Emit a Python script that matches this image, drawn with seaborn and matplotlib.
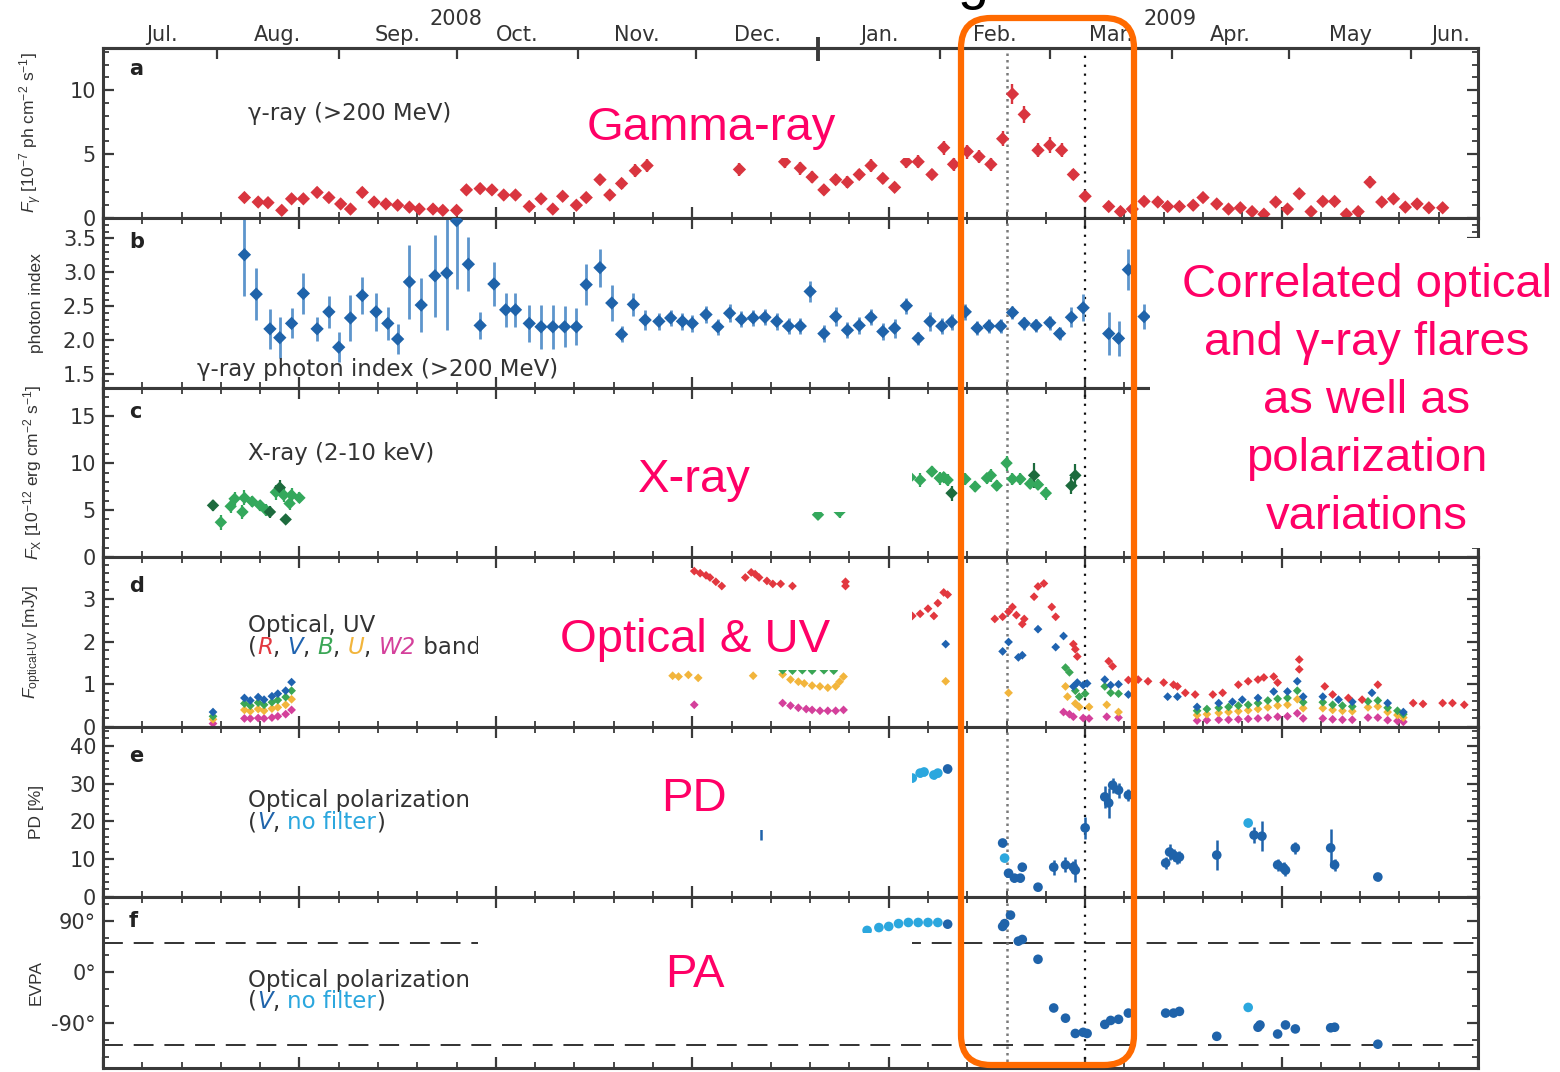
import numpy as np
import pandas as pd
import matplotlib
matplotlib.use("Agg")
import matplotlib.pyplot as plt
import matplotlib.transforms as mtrans
from matplotlib.patches import Rectangle, FancyBboxPatch
from matplotlib.ticker import MultipleLocator, FuncFormatter, FormatStrFormatter
import seaborn as sns

# ---------------- data (MJD on x) ----------------
gamma_mjd = [54686, 54689.5, 54692, 54695.5, 54698, 54701, 54704.5, 54707.5, 54710.5, 54713,
             54716, 54719, 54722, 54725, 54728, 54730.5, 54734, 54736.5, 54740, 54742.5,
             54746, 54749, 54752, 54755, 54758.5, 54761.5, 54764.5, 54767, 54770.5, 54773,
             54776.5, 54779, 54782, 54785.5, 54788.5,
             54812, 54823.5, 54827.5, 54830.5, 54833.5, 54836.5, 54839.5, 54842.5, 54845.5, 54848.5,
             54851.5, 54854.5, 54857.5, 54861, 54864, 54866.5, 54870, 54873, 54876, 54879,
             54881.5, 54884.5, 54888, 54891, 54894, 54897, 54900, 54906, 54909, 54912,
             54915, 54918.5, 54921, 54924, 54927.5, 54930, 54933.5, 54936.5, 54939.5, 54942.5,
             54945.5, 54948.5, 54951.5, 54954.5, 54957.5, 54960.5, 54963.5, 54966.5, 54969.5, 54972.5,
             54975.5, 54978.5, 54981.5, 54984.5, 54987.5, 54991]
gamma_flux = [1.6, 1.25, 1.2, 0.6, 1.5, 1.5, 2.0, 1.6, 1.1, 0.7,
              2.0, 1.25, 1.1, 1.0, 0.85, 0.7, 0.7, 0.6, 0.6, 2.2,
              2.3, 2.2, 1.8, 1.8, 0.9, 1.5, 0.7, 1.7, 1.0, 1.6,
              3.0, 1.8, 2.7, 3.7, 4.1,
              3.8, 4.4, 3.9, 3.2, 2.2, 3.0, 2.8, 3.4, 4.1, 3.1,
              2.4, 4.4, 4.4, 3.4, 5.5, 4.2, 5.2, 4.8, 4.2, 6.2,
              9.7, 8.1, 5.3, 5.7, 5.3, 3.4, 1.7, 0.9, 0.5, 0.7,
              1.3, 1.25, 0.9, 0.9, 1.0, 1.6, 1.1, 0.7, 0.8, 0.5,
              0.3, 1.25, 0.7, 1.9, 0.5, 1.3, 1.3, 0.3, 0.5, 2.8,
              1.25, 1.5, 0.85, 1.1, 0.8, 0.8]
gamma_err = [0.35, 0.3, 0.3, 0.3, 0.35, 0.35, 0.4, 0.35, 0.3, 0.3,
             0.4, 0.35, 0.3, 0.3, 0.3, 0.3, 0.3, 0.3, 0.3, 0.4,
             0.4, 0.4, 0.35, 0.35, 0.3, 0.35, 0.3, 0.35, 0.3, 0.35,
             0.45, 0.35, 0.45, 0.5, 0.5,
             0.5, 0.5, 0.5, 0.45, 0.4, 0.45, 0.45, 0.45, 0.5, 0.45,
             0.4, 0.5, 0.5, 0.45, 0.55, 0.5, 0.55, 0.5, 0.5, 0.6,
             0.75, 0.7, 0.55, 0.6, 0.55, 0.45, 0.45, 0.35, 0.3, 0.3,
             0.35, 0.35, 0.3, 0.3, 0.3, 0.35, 0.3, 0.3, 0.3, 0.3,
             0.3, 0.35, 0.3, 0.4, 0.3, 0.35, 0.35, 0.3, 0.3, 0.45,
             0.35, 0.35, 0.3, 0.3, 0.3, 0.3]

index_mjd = [54686, 54689, 54692.5, 54695, 54698, 54701, 54704.5, 54707.5, 54710, 54713,
             54716, 54719.5, 54722.5, 54725, 54728, 54731, 54734.5, 54737.5, 54740, 54743,
             54746, 54749.5, 54752.5, 54755, 54758.5, 54761.5, 54764.5, 54767.5, 54770.5, 54773,
             54776.5, 54779.5, 54782, 54785, 54788, 54791.5, 54794.5, 54797.5, 54800, 54803.5,
             54806.5, 54809.5, 54812.5, 54815.5, 54818.5, 54821.5, 54824.5, 54827.5, 54830, 54833.5,
             54836.5, 54839.5, 54842.5, 54845.5, 54848.5, 54851.5, 54854.5, 54857.5, 54860.5, 54863.5,
             54866, 54869.5, 54872.5, 54875.5, 54878.5, 54881.5, 54884.5, 54887.5, 54891, 54893.5,
             54896.5, 54899.5, 54906, 54908.5, 54911, 54915]
index_val = [3.26, 2.68, 2.17, 2.04, 2.25, 2.69, 2.17, 2.42, 1.90, 2.33,
             2.66, 2.42, 2.25, 2.02, 2.86, 2.52, 2.95, 2.99, 3.76, 3.12,
             2.22, 2.83, 2.45, 2.45, 2.25, 2.20, 2.20, 2.20, 2.20, 2.82,
             3.07, 2.55, 2.09, 2.53, 2.30, 2.28, 2.33, 2.28, 2.25, 2.38,
             2.20, 2.40, 2.31, 2.33, 2.34, 2.28, 2.21, 2.21, 2.72, 2.10,
             2.35, 2.15, 2.22, 2.34, 2.13, 2.18, 2.51, 2.03, 2.28, 2.21,
             2.27, 2.42, 2.18, 2.21, 2.21, 2.41, 2.25, 2.22, 2.26, 2.10,
             2.34, 2.48, 2.10, 2.03, 3.04, 2.35]
index_err = [0.6, 0.38, 0.29, 0.3, 0.22, 0.3, 0.18, 0.24, 0.22, 0.34,
             0.27, 0.28, 0.24, 0.22, 0.54, 0.4, 0.6, 0.83, 1.0, 0.4,
             0.2, 0.33, 0.25, 0.25, 0.27, 0.32, 0.32, 0.3, 0.27, 0.3,
             0.28, 0.27, 0.12, 0.17, 0.14, 0.13, 0.12, 0.12, 0.12, 0.13,
             0.12, 0.13, 0.12, 0.12, 0.12, 0.12, 0.12, 0.12, 0.15, 0.12,
             0.14, 0.12, 0.12, 0.12, 0.12, 0.14, 0.12, 0.1, 0.14, 0.12,
             0.12, 0.12, 0.1, 0.1, 0.1, 0.1, 0.1, 0.1, 0.1, 0.1,
             0.15, 0.2, 0.32, 0.26, 0.3, 0.18]

xray_mjd = [54678, 54680, 54682.5, 54683.5, 54685.5, 54686, 54688, 54690, 54691.5, 54692.5,
            54694, 54695, 54696, 54696.5, 54697.5, 54698, 54700,
            54832, 54837.5, 54855.5, 54858, 54861, 54863, 54864, 54865, 54866, 54869.5,
            54872, 54875, 54876, 54877.5, 54880, 54881.5, 54883.5, 54886, 54887, 54888,
            54890, 54896.5, 54897.5]
xray_flux = [5.5, 3.7, 5.4, 6.2, 4.8, 6.3, 5.9, 5.5, 5.0, 4.8,
             6.9, 7.4, 6.6, 4.0, 5.7, 6.6, 6.3,
             4.5, 4.8, 8.5, 8.2, 9.1, 8.4, 8.5, 8.2, 6.8, 8.3,
             7.5, 8.4, 8.7, 7.6, 10.0, 8.3, 8.3, 7.8, 8.7, 7.7,
             6.8, 7.6, 8.7]
xray_err = [0.6, 0.8, 0.7, 0.7, 0.7, 0.8, 0.6, 0.6, 0.6, 0.6,
            0.8, 0.8, 0.7, 0.5, 0.7, 0.7, 0.6,
            0.6, 0.6, 0.7, 0.7, 0.6, 0.7, 0.6, 0.6, 0.8, 0.6,
            0.6, 0.6, 0.7, 0.6, 0.8, 0.6, 0.6, 0.6, 1.3, 0.6,
            0.7, 0.9, 1.2]
xray_inst = ["dark", "light", "light", "light", "light", "light", "light", "light", "light", "dark",
             "light", "dark", "light", "dark", "light", "light", "light",
             "light", "light", "light", "light", "light", "light", "light", "light", "dark", "light",
             "light", "light", "light", "light", "light", "light", "light", "light", "dark", "light",
             "light", "dark", "dark"]

R_mjd = [54800.5, 54802, 54803.5, 54804.5, 54806, 54807.5, 54813.5, 54815, 54816, 54817,
         54819, 54820.5, 54822.5, 54825.5, 54839, 54839,
         54856, 54858, 54860, 54861.5, 54862.5, 54864, 54865,
         54877, 54879, 54880.5, 54881.5, 54882.5, 54884, 54884.5, 54887, 54888, 54889.5,
         54891.5, 54892.5, 54897, 54897.5, 54898, 54906, 54907,
         54911, 54913.5, 54916, 54920, 54922.5, 54923.5, 54925.5, 54928, 54932.5, 54935,
         54939, 54941.5, 54944, 54945.5, 54948, 54949, 54954.5, 54954.5, 54961, 54963,
         54967, 54970.5, 54974.5, 54983.5, 54986, 54991, 54993.5, 54996.5]
R_val = [3.65, 3.6, 3.55, 3.5, 3.4, 3.3, 3.5, 3.62, 3.58, 3.5,
         3.42, 3.35, 3.35, 3.3, 3.4, 3.3,
         2.6, 2.65, 2.77, 2.6, 2.9, 3.15, 3.1,
         2.53, 2.58, 2.7, 2.81, 2.62, 2.41, 2.53, 3.05, 3.29, 3.36,
         2.81, 2.58, 1.94, 1.82, 1.65, 1.54, 1.42,
         1.1, 1.11, 1.07, 1.04, 0.99, 0.95, 0.8, 0.76, 0.76, 0.8,
         0.99, 1.07, 1.11, 1.16, 1.18, 1.04, 1.58, 1.35, 0.95, 0.76,
         0.68, 0.64, 0.99, 0.56, 0.54, 0.56, 0.56, 0.52]
V_mjd = [54678, 54686, 54687.5, 54689.5, 54691, 54693, 54694.5, 54696.5, 54698,
         54864.5, 54879, 54880.5, 54883, 54884, 54888, 54892.5, 54894.5, 54897, 54898,
         54899.5, 54900.5, 54905, 54906.5, 54908.5, 54911,
         54921, 54923.5, 54928.5, 54934, 54937.5, 54940, 54944, 54948, 54951.5, 54954,
         54955.5, 54960.5, 54964.5, 54968, 54973, 54977, 54981]
V_val = [0.35, 0.68, 0.62, 0.70, 0.64, 0.72, 0.78, 0.85, 1.05,
         1.94, 1.77, 1.99, 1.63, 1.68, 2.29, 1.87, 2.13, 0.95, 1.04,
         0.98, 1.02, 1.11, 0.98, 1.0, 0.76,
         0.71, 0.71, 0.47, 0.56, 0.59, 0.64, 0.68, 0.83, 0.83, 1.07,
         0.71, 0.71, 0.64, 0.59, 0.8, 0.56, 0.35]
B_mjd = [54678, 54686, 54687.5, 54689.5, 54691, 54693, 54694.5, 54696.5, 54698,
         54823, 54825.5, 54828, 54830.5, 54833.5, 54836,
         54895, 54896, 54897.5, 54898.5, 54900, 54905, 54906.5, 54908.5,
         54928.5, 54931, 54934, 54936.5, 54939, 54941.5, 54944, 54946.5, 54949, 54951.5,
         54954, 54955.5, 54960.5, 54963, 54965.5, 54968, 54972, 54974.5, 54977, 54979.5, 54981]
B_val = [0.25, 0.55, 0.50, 0.57, 0.52, 0.58, 0.63, 0.70, 0.85,
         1.33, 1.32, 1.33, 1.32, 1.33, 1.32,
         1.39, 1.28, 0.85, 0.71, 0.78, 0.95, 0.80, 0.78,
         0.38, 0.42, 0.45, 0.47, 0.5, 0.52, 0.56, 0.62, 0.66, 0.68,
         0.85, 0.58, 0.58, 0.52, 0.5, 0.48, 0.6, 0.62, 0.45, 0.38, 0.3]
U_mjd = [54678, 54686, 54687.5, 54689.5, 54691, 54693, 54694.5, 54696.5, 54698,
         54795, 54796.5, 54799, 54801.5, 54815.5, 54823, 54825, 54827, 54828.5, 54830.5,
         54832.5, 54834.5, 54836.5, 54837.5, 54838.5, 54864.5,
         54880.5, 54895, 54895.5, 54897.5, 54898.5, 54901, 54905.5, 54908.5,
         54928.5, 54931, 54934, 54936.5, 54939, 54941.5, 54944, 54946.5, 54949, 54951.5,
         54954, 54955.5, 54960.5, 54963, 54965.5, 54968, 54972, 54974.5, 54977, 54979.5, 54981]
U_val = [0.18, 0.40, 0.37, 0.42, 0.38, 0.43, 0.46, 0.52, 0.65,
         1.2, 1.18, 1.22, 1.15, 1.2, 1.23, 1.11, 1.06, 1.02, 0.97,
         0.95, 0.92, 0.95, 1.06, 1.18, 1.07,
         0.8, 0.95, 0.71, 0.55, 0.47, 0.47, 0.52, 0.35,
         0.28, 0.3, 0.33, 0.35, 0.37, 0.39, 0.42, 0.46, 0.5, 0.52,
         0.65, 0.44, 0.44, 0.4, 0.38, 0.37, 0.46, 0.48, 0.35, 0.28, 0.22]
W2_mjd = [54678, 54686, 54687.5, 54689.5, 54691, 54693, 54694.5, 54696.5, 54698,
          54800.5, 54823, 54825, 54827, 54829, 54830.5, 54832.5, 54834.5, 54836.5, 54838.5,
          54894.5, 54896, 54897, 54899.5, 54901, 54905.5, 54908.5,
          54928.5, 54931, 54934, 54936.5, 54939, 54941.5, 54944, 54946.5, 54949, 54951.5,
          54954, 54955.5, 54960.5, 54963, 54965.5, 54968, 54972, 54974.5, 54977, 54979.5, 54981]
W2_val = [0.08, 0.20, 0.20, 0.21, 0.20, 0.22, 0.25, 0.30, 0.40,
          0.52, 0.56, 0.5, 0.45, 0.42, 0.4, 0.38, 0.38, 0.38, 0.4,
          0.35, 0.3, 0.24, 0.21, 0.2, 0.24, 0.22,
          0.15, 0.16, 0.17, 0.17, 0.18, 0.19, 0.2, 0.22, 0.24, 0.25,
          0.32, 0.2, 0.2, 0.18, 0.17, 0.17, 0.22, 0.22, 0.16, 0.14, 0.12]

pd_mjd = [54817.5, 54856, 54858, 54859, 54861.5, 54862.5, 54865,
          54879, 54879.5, 54880.5, 54882, 54883.5, 54884, 54888, 54892, 54895, 54897,
          54897.5, 54900, 54905, 54906, 54907, 54908.5, 54911,
          54920.5, 54921.5, 54922.5, 54923.5, 54924, 54933.5, 54941.5, 54943, 54945, 54949,
          54950.5, 54951, 54953.5, 54962.5, 54963.5, 54974.5]
pd_val = [20, 31.5, 32.8, 33.1, 32.3, 32.8, 33.9,
          14.3, 10.3, 6.3, 5.0, 5.0, 7.9, 2.6, 7.9, 8.5, 7.9,
          7.1, 18.3, 26.5, 24.9, 29.6, 28.3, 27.0,
          9.0, 11.9, 11.1, 10.3, 10.6, 11.1, 19.6, 16.4, 16.1, 8.5,
          7.7, 7.1, 13.0, 13.0, 8.5, 5.3]
pd_err = [5, 1, 1, 1, 1, 1, 1,
          1, 1, 1, 1, 1, 1, 1, 2, 2, 1.5,
          3, 3, 3, 4, 2, 2, 1.5,
          1.5, 2, 1.5, 1.5, 1.5, 4, 1, 2, 4, 1.5,
          1.5, 1.5, 1.5, 5, 1.5, 1]
pd_filter = ["V", "none", "none", "none", "none", "none", "V",
             "V", "none", "V", "V", "V", "V", "V", "V", "V", "V",
             "V", "V", "V", "V", "V", "V", "V",
             "V", "V", "V", "V", "V", "V", "none", "V", "V", "V",
             "V", "V", "V", "V", "V", "V"]

evpa_mjd = [54844.5, 54847.5, 54850, 54852.5, 54855, 54857.5, 54860, 54862.5, 54865,
            54879, 54879.5, 54881, 54883, 54884, 54888, 54892, 54895, 54897.5, 54899.5,
            54900.5, 54905, 54906.5, 54908.5, 54911,
            54920.5, 54922.5, 54924, 54933.5, 54941.5, 54944, 54944.5, 54949, 54951, 54953.5,
            54962.5, 54963.5, 54974.5]
evpa_val = [73, 78, 80, 85, 87, 87, 87, 87, 84,
            80, 85, 100, 54, 57, 22, -64, -82, -109, -107,
            -109, -93, -86, -84, -73,
            -73, -73, -70, -114, -63, -98, -94, -110, -94, -101,
            -99, -98, -128]
evpa_filter = ["none", "none", "none", "none", "none", "none", "none", "none", "V",
               "V", "V", "V", "V", "V", "V", "V", "V", "V", "V",
               "V", "V", "V", "V", "V",
               "V", "V", "V", "V", "none", "V", "V", "V", "V", "V",
               "V", "V", "V"]

month_names = ["Jul.", "Aug.", "Sep.", "Oct.", "Nov.", "Dec.", "Jan.", "Feb.", "Mar.", "Apr.", "May", "Jun."]
month_label_mjd = [54665, 54694.5, 54725, 54755.5, 54786, 54816.5, 54847.5, 54877, 54906.5, 54937, 54967.5, 54993]
month_start_mjd = [54679, 54710, 54740, 54771, 54801, 54832, 54863, 54891, 54922, 54952, 54983]
flare_lines = [54880, 54900]
evpa_bounds = [50, -130]

# ---------------- style ----------------
sns.set_theme(style="ticks")
plt.rcParams["font.family"] = ["DejaVu Sans"]
plt.rcParams["mathtext.fontset"] = "custom"
plt.rcParams["mathtext.rm"] = "Liberation Sans"
plt.rcParams["mathtext.it"] = "Liberation Sans:italic"
plt.rcParams["mathtext.bf"] = "Liberation Sans:bold"

RED = "#d9353f"
BLUE = "#1f63aa"
LBLUE = "#2ba7de"
EBLUE = "#5d95cc"
GREEN = "#34a85c"
DGREEN = "#1d6b3d"
TXT = "#333333"
SP = "#3a3a3a"
PINK = "#ff0066"
ORANGE = "#ff6a00"
band_pal = {"W2": "#d4409b", "U": "#f2b53c", "B": "#3aa655", "V": "#1f63b0", "R": "#e2383f"}

W, H = 1560, 1072
fig = plt.figure(figsize=(W / 100, H / 100), dpi=100, facecolor="white")
edges = [48, 218, 388, 557, 727, 897, 1068]
axes = []
for i in range(6):
    t, b = edges[i], edges[i + 1]
    axes.append(fig.add_axes([103 / W, 1 - b / H, 1375 / W, (b - t) / H]))
axA, axB, axC, axD, axE, axF = axes


def errscatter(ax, df, y, err, color, ecolor, marker, s, ew=1.7):
    ax.errorbar(df["mjd"], df[y], yerr=df[err], fmt="none", ecolor=ecolor,
                elinewidth=ew, capsize=0, zorder=2)
    sns.scatterplot(data=df, x="mjd", y=y, ax=ax, color=color, marker=marker,
                    s=s, edgecolor="none", legend=False, zorder=3)


# a: gamma flux
dfg = pd.DataFrame({"mjd": gamma_mjd, "flux": gamma_flux, "err": gamma_err})
errscatter(axA, dfg, "flux", "err", RED, RED, "D", 46)

# b: photon index
dfi = pd.DataFrame({"mjd": index_mjd, "idx": index_val, "err": index_err})
errscatter(axB, dfi, "idx", "err", BLUE, EBLUE, "D", 46, ew=2.0)

# c: X-ray
dfx = pd.DataFrame({"mjd": xray_mjd, "flux": xray_flux, "err": xray_err, "inst": xray_inst})
xpal = {"light": GREEN, "dark": DGREEN}
for inst, g in dfx.groupby("inst"):
    axC.errorbar(g["mjd"], g["flux"], yerr=g["err"], fmt="none", ecolor=xpal[inst], elinewidth=1.6, zorder=2)
sns.scatterplot(data=dfx, x="mjd", y="flux", hue="inst", palette=xpal, ax=axC, marker="D",
                s=40, edgecolor="none", legend=False, zorder=3)

# d: optical / UV
frames = []
for band, m, v in [("W2", W2_mjd, W2_val), ("U", U_mjd, U_val), ("B", B_mjd, B_val),
                   ("V", V_mjd, V_val), ("R", R_mjd, R_val)]:
    frames.append(pd.DataFrame({"mjd": m, "flux": v, "band": band}))
dfo = pd.concat(frames, ignore_index=True)
sns.scatterplot(data=dfo, x="mjd", y="flux", hue="band", palette=band_pal, ax=axD,
                marker="D", s=20, edgecolor="none", legend=False, zorder=3)

# e: PD
dfp = pd.DataFrame({"mjd": pd_mjd, "pd": pd_val, "err": pd_err, "filt": pd_filter})
ppal = {"V": BLUE, "none": LBLUE}
for f, g in dfp.groupby("filt"):
    axE.errorbar(g["mjd"], g["pd"], yerr=g["err"], fmt="none", ecolor=ppal[f], elinewidth=1.8, zorder=2)
sns.scatterplot(data=dfp, x="mjd", y="pd", hue="filt", palette=ppal, ax=axE, marker="o",
                s=48, edgecolor="none", legend=False, zorder=3)

# f: EVPA
dfe = pd.DataFrame({"mjd": evpa_mjd, "evpa": evpa_val, "filt": evpa_filter})
sns.scatterplot(data=dfe, x="mjd", y="evpa", hue="filt", palette=ppal, ax=axF, marker="o",
                s=48, edgecolor="none", legend=False, zorder=3)
for yb in evpa_bounds:
    axF.axhline(yb, color="#222222", lw=1.3, ls=(0, (11, 6)), zorder=1)

# ---------------- axes cosmetics ----------------
ylims = [(0, 13.3), (1.3, 3.8), (0, 18), (0, 3.98), (0, 45), (-170, 132)]
ymaj = [5, 0.5, 5, 1, 10, 90]
ymin = [1, 0.1, 1, 0.2, 2, 30]
fmts = [FormatStrFormatter("%d"), FormatStrFormatter("%.1f"), FormatStrFormatter("%d"),
        FormatStrFormatter("%d"), FormatStrFormatter("%d"),
        FuncFormatter(lambda v, p: f"{int(round(v))}\u00b0")]
ylabels = [r"$F_{\gamma}$ [10$^{-7}$ ph cm$^{-2}$ s$^{-1}$]", "photon index",
           r"$F_{\mathrm{X}}$ [10$^{-12}$ erg cm$^{-2}$ s$^{-1}$]",
           "$F_{\\mathrm{optical\u2010UV}}$ [mJy]", "PD [%]", "EVPA"]

for i, ax in enumerate(axes):
    ax.set_facecolor("white")
    ax.set_xlim(54650, 55000)
    ax.set_ylim(*ylims[i])
    ax.xaxis.set_major_locator(MultipleLocator(50))
    ax.xaxis.set_minor_locator(MultipleLocator(10))
    ax.yaxis.set_major_locator(MultipleLocator(ymaj[i]))
    ax.yaxis.set_minor_locator(MultipleLocator(ymin[i]))
    ax.yaxis.set_major_formatter(fmts[i])
    ax.tick_params(axis="x", which="both", direction="in", top=(i > 0), bottom=True,
                   labelbottom=False, labeltop=False, color=SP)
    ax.tick_params(axis="y", which="both", direction="in", left=True, right=True,
                   labelsize=15, labelcolor=TXT, color=SP, pad=5)
    ax.tick_params(which="major", length=8, width=1.6)
    ax.tick_params(which="minor", length=4.5, width=1.3)
    for sp in ax.spines.values():
        sp.set_linewidth(2.2)
        sp.set_color(SP)
    ax.set_xlabel("")
    ax.set_ylabel(ylabels[i], fontsize=12.5, color=TXT, family=["Liberation Sans", "DejaVu Sans"])
    ax.yaxis.set_label_coords(-0.043, 0.5)
    ax.axvline(flare_lines[0], color="#7a7a7a", lw=1.8, ls=(0, (1.0, 1.6)), zorder=1)
    ax.axvline(flare_lines[1], color="#111111", lw=1.6, ls=(0, (1.0, 3.0)), zorder=1)

# top calendar axis
sec = axA.secondary_xaxis("top")
sec.set_xticks(month_start_mjd, labels=[""] * len(month_start_mjd))
sec.set_xticks(month_label_mjd, labels=month_names, minor=True)
sec.tick_params(which="major", direction="in", length=8, width=1.6, color=SP)
sec.tick_params(which="minor", length=0, labelsize=15, labelcolor=TXT, pad=2)
sec.spines["top"].set_linewidth(2.2)
sec.spines["top"].set_color(SP)
jan_tr = mtrans.blended_transform_factory(axA.transData, fig.transFigure)
axA.plot([month_start_mjd[5]] * 2, [1 - 37 / H, 1 - 61 / H], transform=jan_tr,
         color=SP, lw=2.8, clip_on=False, solid_capstyle="butt", zorder=5)


def ftext(x, y, s, **kw):
    return fig.text(x / W, 1 - y / H, s, **kw)


ftext(456, 25, "2008", fontsize=15, color=TXT, ha="center", va="baseline")
ftext(1170, 25, "2009", fontsize=15, color=TXT, ha="center", va="baseline")

for letter, yb in zip("abcdef", [75, 248, 418, 592, 762, 927]):
    ftext(129, yb, letter, fontsize=15, fontweight="bold", color="#222222", va="baseline", zorder=4)

ik = dict(fontsize=16.5, color=TXT, va="baseline", zorder=4)
ftext(248, 120, "\u03b3-ray (>200 MeV)", **ik)
ftext(197, 376, "\u03b3-ray photon index (>200 MeV)", **ik)
ftext(248, 460, "X-ray (2-10 keV)", **ik)
ftext(248, 632, "Optical, UV", **ik)
ftext(248, 807, "Optical polarization", **ik)
ftext(248, 987, "Optical polarization", **ik)

renderer = fig.canvas.get_renderer()


def text_width(s, **kw):
    t1 = fig.text(0, 0, s + "|", **kw)
    w1 = t1.get_window_extent(renderer).width
    t1.remove()
    t2 = fig.text(0, 0, "|", **kw)
    w2 = t2.get_window_extent(renderer).width
    t2.remove()
    return w1 - w2


def rainbow(x, y, pieces, size=16.5):
    for s, col, style in pieces:
        ftext(x, y, s, fontsize=size, color=col, style=style, va="baseline", zorder=4)
        x += text_width(s, fontsize=size, style=style)


rainbow(248, 654, [("(", TXT, "normal"), ("R", band_pal["R"], "italic"), (", ", TXT, "normal"),
                   ("V", band_pal["V"], "italic"), (", ", TXT, "normal"),
                   ("B", band_pal["B"], "italic"), (", ", TXT, "normal"),
                   ("U", band_pal["U"], "italic"), (", ", TXT, "normal"),
                   ("W2", band_pal["W2"], "italic"), (" bands)", TXT, "normal")])
for yb in [829, 1008]:
    rainbow(248, yb, [("(", TXT, "normal"), ("V", BLUE, "italic"), (", ", TXT, "normal"),
                      ("no filter", LBLUE, "normal"), (")", TXT, "normal")])

# ---------------- slide overlay ----------------
def wbox(x0, y0, x1, y1):
    fig.add_artist(Rectangle((x0 / W, 1 - y1 / H), (x1 - x0) / W, (y1 - y0) / H,
                             transform=fig.transFigure, facecolor="white",
                             edgecolor="none", zorder=10))


wbox(558, 93, 912, 158)
wbox(1150, 238, 1560, 548)
wbox(478, 400, 912, 512)
wbox(478, 594, 912, 670)
wbox(478, 742, 912, 830)
wbox(478, 933, 912, 1040)

pk = dict(fontsize=34, color=PINK, family=["Liberation Sans", "DejaVu Sans"],
          ha="center", va="baseline", zorder=11)
ftext(711, 140, "Gamma-ray", **pk)
ftext(694, 492, "X-ray", **pk)
ftext(695, 652, "Optical & UV", **pk)
ftext(694, 811, "PD", **pk)
ftext(695, 987, "PA", **pk)
for k, line in enumerate(["Correlated optical", "and \u03b3-ray flares", "as well as",
                          "polarization", "variations"]):
    ftext(1367, 297 + 58 * k, line, **pk)

ftext(973, -2, "g", fontsize=40, color="black", family=["Liberation Sans", "DejaVu Sans"],
      ha="center", va="baseline", zorder=11)

fig.add_artist(FancyBboxPatch((961, H - 1065), 173, 1047,
                              boxstyle="round,pad=0,rounding_size=30",
                              transform=mtrans.IdentityTransform(), fill=False,
                              edgecolor=ORANGE, linewidth=4.5, zorder=12))

fig.savefig("out.png", dpi=100, facecolor="white")
